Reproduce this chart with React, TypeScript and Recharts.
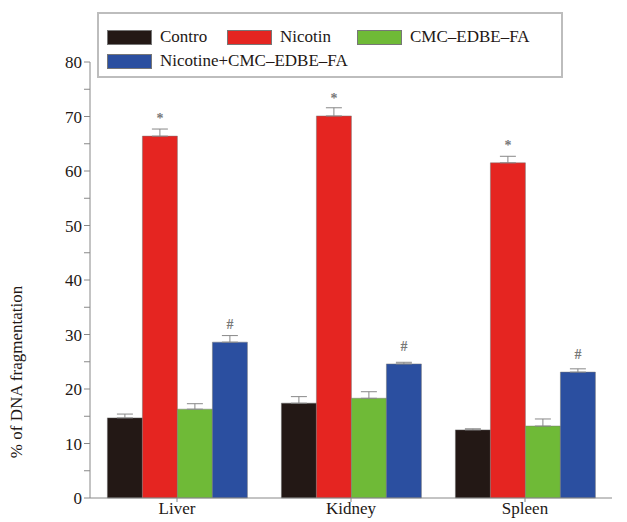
import React from "react";
import { BarChart, Bar, XAxis, YAxis, ErrorBar, LabelList } from "recharts";

const categories = ["Liver", "Kidney", "Spleen"];
const control = [14.7, 17.4, 12.5];
const nicotine = [66.4, 70.1, 61.5];
const cmc = [16.3, 18.3, 13.2];
const combo = [28.6, 24.6, 23.1];
const controlErr = [0.7, 1.2, 0.2];
const nicotineErr = [1.3, 1.5, 1.2];
const cmcErr = [1.0, 1.2, 1.3];
const comboErr = [1.2, 0.3, 0.6];
const nicotineMarks = ["*", "*", "*"];
const comboMarks = ["#", "#", "#"];
const yTicks = [0, 5, 10, 15, 20, 25, 30, 35, 40, 45, 50, 55, 60, 65, 70, 75, 80];

const seriesNames = ["Contro", "Nicotin", "CMC\u2013EDBE\u2013FA", "Nicotine+CMC\u2013EDBE\u2013FA"];
const colors = ["#231815", "#e52521", "#6fba37", "#2b4fa0"];

const data = categories.map((c, i) => ({
  name: c,
  control: control[i],
  nicotine: nicotine[i],
  cmc: cmc[i],
  combo: combo[i],
  controlErr: [0, controlErr[i]],
  nicotineErr: [0, nicotineErr[i]],
  cmcErr: [0, cmcErr[i]],
  comboErr: [0, comboErr[i]],
  nMark: nicotineMarks[i],
  cMark: comboMarks[i],
}));

const FONT = "Liberation Serif";

const markContent = (props: any) => {
  const { x, y, width, value } = props;
  return (
    <text x={x + width / 2} y={y - 13} textAnchor="middle" fontSize={14} fill="#777" fontFamily={FONT} fontWeight="bold">
      {value}
    </text>
  );
};

const LegendBox = () => {
  const sw = (c: string) => (
    <span style={{ display: "inline-block", width: 45, height: 15, background: c, border: "1px solid #777", boxSizing: "border-box", marginRight: 8 }} />
  );
  const item = (i: number, extra: React.CSSProperties) => (
    <div style={{ position: "absolute", display: "flex", alignItems: "center", whiteSpace: "nowrap", ...extra }}>
      {sw(colors[i])}
      <span>{seriesNames[i]}</span>
    </div>
  );
  return (
    <div style={{ position: "absolute", left: 97, top: 12, width: 466, height: 66, border: "2px solid #bdbdbd", boxSizing: "border-box", fontFamily: FONT, fontSize: 17, color: "#231815", background: "#fff", lineHeight: "18px" }}>
      {item(0, { left: 8, top: 14 })}
      {item(1, { left: 128, top: 14 })}
      {item(2, { left: 258, top: 14 })}
      {item(3, { left: 8, top: 38 })}
    </div>
  );
};

export default function App() {
  return (
    <div style={{ position: "absolute", left: 0, top: 0, width: 627, height: 522, background: "#fff" }}>
      <BarChart
        width={627}
        height={522}
        data={data}
        margin={{ top: 62, right: 15, bottom: 0, left: 0 }}
        barCategoryGap="10%"
        barGap={0}
      >
        <XAxis
          dataKey="name"
          height={24}
          tickSize={4}
          tick={{ fontSize: 17, fill: "#231815", fontFamily: FONT }}
          stroke="#888"
          tickMargin={0}
        />
        <YAxis
          width={90}
          domain={[0, 80]}
          ticks={yTicks}
          interval={0}
          tickFormatter={(v: number) => (v % 10 === 0 ? String(v) : "")}
          tick={{ fontSize: 17, fill: "#231815", fontFamily: FONT }}
          tickSize={6}
          stroke="#888"
          label={() => (
            <text
              x={22}
              y={372}
              transform="rotate(-90, 22, 372)"
              textAnchor="middle"
              fontSize={17}
              fill="#231815"
              fontFamily={FONT}
            >
              % of DNA fragmentation
            </text>
          )}
        />
        <Bar dataKey="control" name={seriesNames[0]} fill={colors[0]} stroke="#666" strokeWidth={0.5} isAnimationActive={false}>
          <ErrorBar dataKey="controlErr" width={8} stroke="#888" strokeWidth={1} />
        </Bar>
        <Bar dataKey="nicotine" name={seriesNames[1]} fill={colors[1]} stroke="#777" strokeWidth={0.5} isAnimationActive={false}>
          <ErrorBar dataKey="nicotineErr" width={8} stroke="#888" strokeWidth={1} />
          <LabelList dataKey="nMark" content={markContent} />
        </Bar>
        <Bar dataKey="cmc" name={seriesNames[2]} fill={colors[2]} stroke="#777" strokeWidth={0.5} isAnimationActive={false}>
          <ErrorBar dataKey="cmcErr" width={8} stroke="#888" strokeWidth={1} />
        </Bar>
        <Bar dataKey="combo" name={seriesNames[3]} fill={colors[3]} stroke="#777" strokeWidth={0.5} isAnimationActive={false}>
          <ErrorBar dataKey="comboErr" width={8} stroke="#888" strokeWidth={1} />
          <LabelList dataKey="cMark" content={markContent} />
        </Bar>
      </BarChart>
      <LegendBox />
    </div>
  );
}
